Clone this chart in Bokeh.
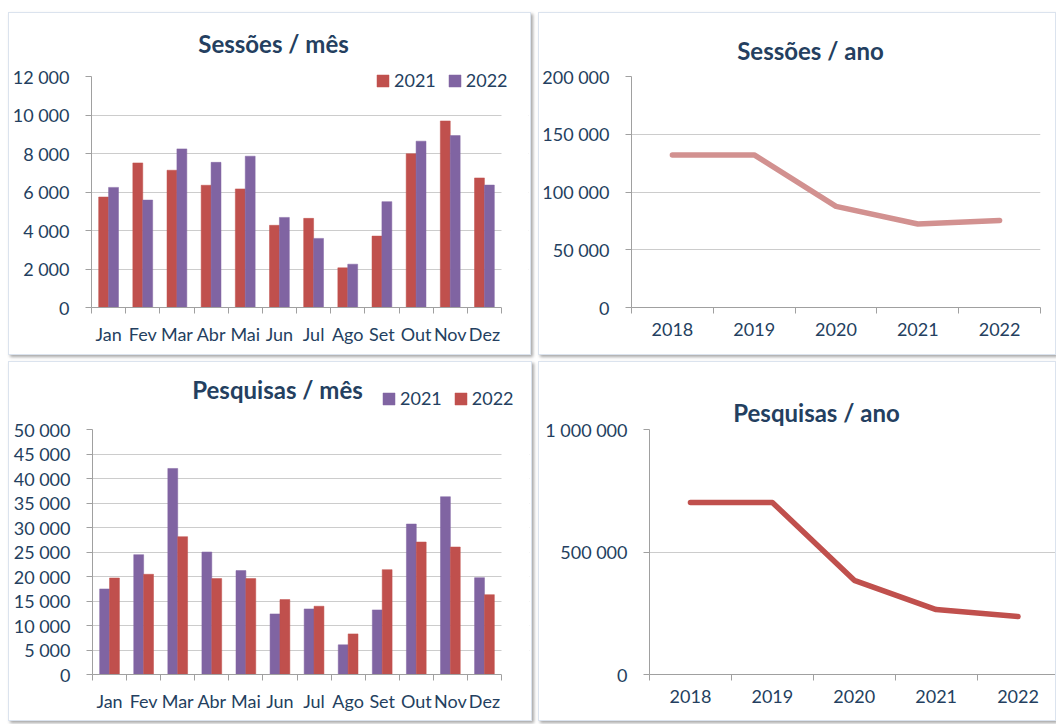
from bokeh.plotting import figure
from bokeh.models import (FixedTicker, Label, Legend, LegendItem, Range1d, ColumnDataSource,
                          BoxAnnotation)
from bokeh.layouts import row, column
from bokeh.transform import dodge
from bokeh.embed import file_html
from bokeh.resources import INLINE

# ---------------- data ----------------
months = ["Jan", "Fev", "Mar", "Abr", "Mai", "Jun", "Jul", "Ago", "Set", "Out", "Nov", "Dez"]
sessoes_2021 = [5740, 7510, 7130, 6350, 6160, 4270, 4630, 2060, 3710, 7990, 9690, 6730]
sessoes_2022 = [6240, 5580, 8240, 7540, 7860, 4680, 3590, 2250, 5500, 8640, 8930, 6360]
pesquisas_2021 = [17460, 24460, 42050, 25000, 21200, 12360, 13380, 6050, 13180, 30710, 36280, 19770]
pesquisas_2022 = [19700, 20450, 28130, 19570, 19570, 15290, 13930, 8290, 21400, 27040, 26020, 16300]
years = ["2018", "2019", "2020", "2021", "2022"]
sessoes_ano = [132100, 132100, 87600, 72300, 75400]
pesquisas_ano = [702400, 702400, 384500, 265000, 236400]

sessoes_mes_ticks = [0, 2000, 4000, 6000, 8000, 10000, 12000]
sessoes_ano_ticks = [0, 50000, 100000, 150000, 200000]
pesquisas_mes_ticks = [0, 5000, 10000, 15000, 20000, 25000, 30000, 35000, 40000, 45000, 50000]
pesquisas_ano_ticks = [0, 500000, 1000000]

# ---------------- style ----------------
RED = "#c0504d"
PURPLE = "#8064a2"
PINK = "#d29190"
TXT = "#243f60"
AXIS = "#a0a0a0"
GRID = "#cccccc"
FONT = "Lato"
LBL = "18px"
PANEL_STYLE = {"border": "1px solid #dbe3ee", "box-shadow": "2px 2px 3px rgba(0,0,0,0.35)",
               "box-sizing": "border-box"}
TOP_PAD = 4  # frame starts this far below the figure top; the axis stops at the top tick


def fmt(v):
    return f"{v:,}".replace(",", " ")


def make_fig(width, height, n, plot_w, yticks, plot_h, bl, br, bb):
    # plot_w / plot_h: pixel size of the category span and of the 0..top-tick span
    frame_h = height - TOP_PAD - bb
    frame_w = width - bl - br
    y_end = yticks[-1] * frame_h / plot_h
    x_end = -0.5 + n * frame_w / plot_w
    p = figure(width=width, height=height, x_range=Range1d(-0.5, x_end), y_range=Range1d(0, y_end),
               output_backend="svg", toolbar_location=None,
               min_border_left=bl, min_border_right=br, min_border_top=TOP_PAD,
               min_border_bottom=bb, styles=PANEL_STYLE)
    p.outline_line_color = None
    p.background_fill_color = "white"
    p.border_fill_color = "white"
    return p


def style_axes(p, yticks, cats):
    n = len(cats)
    p.xgrid.visible = False
    p.ygrid.ticker = FixedTicker(ticks=yticks[:-1])
    p.ygrid.grid_line_color = GRID
    p.ygrid.grid_line_width = 1
    # keep the plot area's right edge clean (gridlines stop at the last category)
    if p.x_range.end > n - 0.5 + 0.01:
        p.add_layout(BoxAnnotation(left=n - 0.5, fill_color="white", fill_alpha=1,
                                   line_color=None))

    ya = p.yaxis[0]
    ya.ticker = FixedTicker(ticks=yticks)
    ya.bounds = (yticks[0], yticks[-1])
    ya.major_label_overrides = {t: fmt(t) for t in yticks}
    ya.axis_line_color = AXIS
    ya.major_tick_line_color = AXIS
    ya.major_tick_out = 6
    ya.major_tick_in = 0
    ya.minor_tick_line_color = None
    ya.major_label_standoff = 16
    ya.major_label_text_font = FONT
    ya.major_label_text_font_size = LBL
    ya.major_label_text_color = TXT

    xa = p.xaxis[0]
    xa.ticker = FixedTicker(ticks=list(range(n)), minor_ticks=[i - 0.5 for i in range(n + 1)])
    xa.bounds = (-0.5, n - 0.5)
    xa.major_label_overrides = {i: c for i, c in enumerate(cats)}
    xa.axis_line_color = AXIS
    xa.major_tick_line_color = None
    xa.major_tick_out = 0
    xa.major_tick_in = 0
    xa.minor_tick_line_color = AXIS
    xa.minor_tick_out = 6
    xa.minor_tick_in = 0
    xa.major_label_standoff = 9
    xa.major_label_text_font = FONT
    xa.major_label_text_font_size = LBL
    xa.major_label_text_color = TXT


def add_title(p, text, y, xoff, yoff):
    p.add_layout(Label(x=p.x_range.start, y=y, x_offset=xoff, y_offset=yoff, text=text,
                       text_font=FONT, text_font_style="bold", text_font_size="24px",
                       text_color=TXT, text_align="center", text_baseline="alphabetic"))


def bar_panel(width, height, vals_a, vals_b, col_a, col_b, yticks, plot_w, plot_h, title,
              borders, tpos, lpos):
    n = len(months)
    p = make_fig(width, height, n, plot_w, yticks, plot_h, *borders)
    src = ColumnDataSource(dict(x=list(range(n)), a=vals_a, b=vals_b))
    bw = 0.29
    ra = p.vbar(x=dodge("x", -bw / 2), top="a", width=bw, source=src,
                fill_color=col_a, line_color=col_a, line_width=0.5)
    rb = p.vbar(x=dodge("x", bw / 2), top="b", width=bw, source=src,
                fill_color=col_b, line_color=col_b, line_width=0.5)
    style_axes(p, yticks, months)
    add_title(p, title, yticks[-1], tpos[0], tpos[1])
    leg = Legend(items=[LegendItem(label="2021", renderers=[ra]),
                        LegendItem(label="2022", renderers=[rb])],
                 orientation="horizontal", location=lpos,
                 padding=0, margin=0, spacing=11, label_standoff=4,
                 glyph_width=15, glyph_height=15, label_height=15,
                 border_line_color=None, background_fill_alpha=0,
                 label_text_font=FONT, label_text_font_size=LBL, label_text_color=TXT)
    p.add_layout(leg, "center")
    return p


def line_panel(width, height, vals, color, yticks, plot_w, plot_h, title, borders, tpos):
    n = len(years)
    p = make_fig(width, height, n, plot_w, yticks, plot_h, *borders)
    p.line(x=list(range(n)), y=vals, line_color=color, line_width=5.5,
           line_cap="round", line_join="round")
    style_axes(p, yticks, years)
    add_title(p, title, yticks[-1], tpos[0], tpos[1])
    return p


p1 = bar_panel(523, 343, sessoes_2021, sessoes_2022, RED, PURPLE, sessoes_mes_ticks, 410, 231,
               "Sessões / mês", (82, 4, 49), (182, 33), (284, 216))
p2 = line_panel(518, 343, sessoes_ano, PINK, sessoes_ano_ticks, 409, 231,
                "Sessões / ano", (92, 17, 49), (179, 26))
p3 = bar_panel(524, 360, pesquisas_2021, pesquisas_2022, PURPLE, RED, pesquisas_mes_ticks, 409, 245,
               "Pesquisas / mês", (83, 4, 48), (185, 40), (289, 265))
p4 = line_panel(518, 360, pesquisas_ano, RED, pesquisas_ano_ticks, 409.5, 245,
                "Pesquisas / ano", (110, 0, 48), (167, 17))

layout = column(row(p1, p2, spacing=7), row(p3, p4, spacing=6), spacing=6, margin=(12, 0, 0, 8))

open("out.html", "w").write(file_html(layout, INLINE))
